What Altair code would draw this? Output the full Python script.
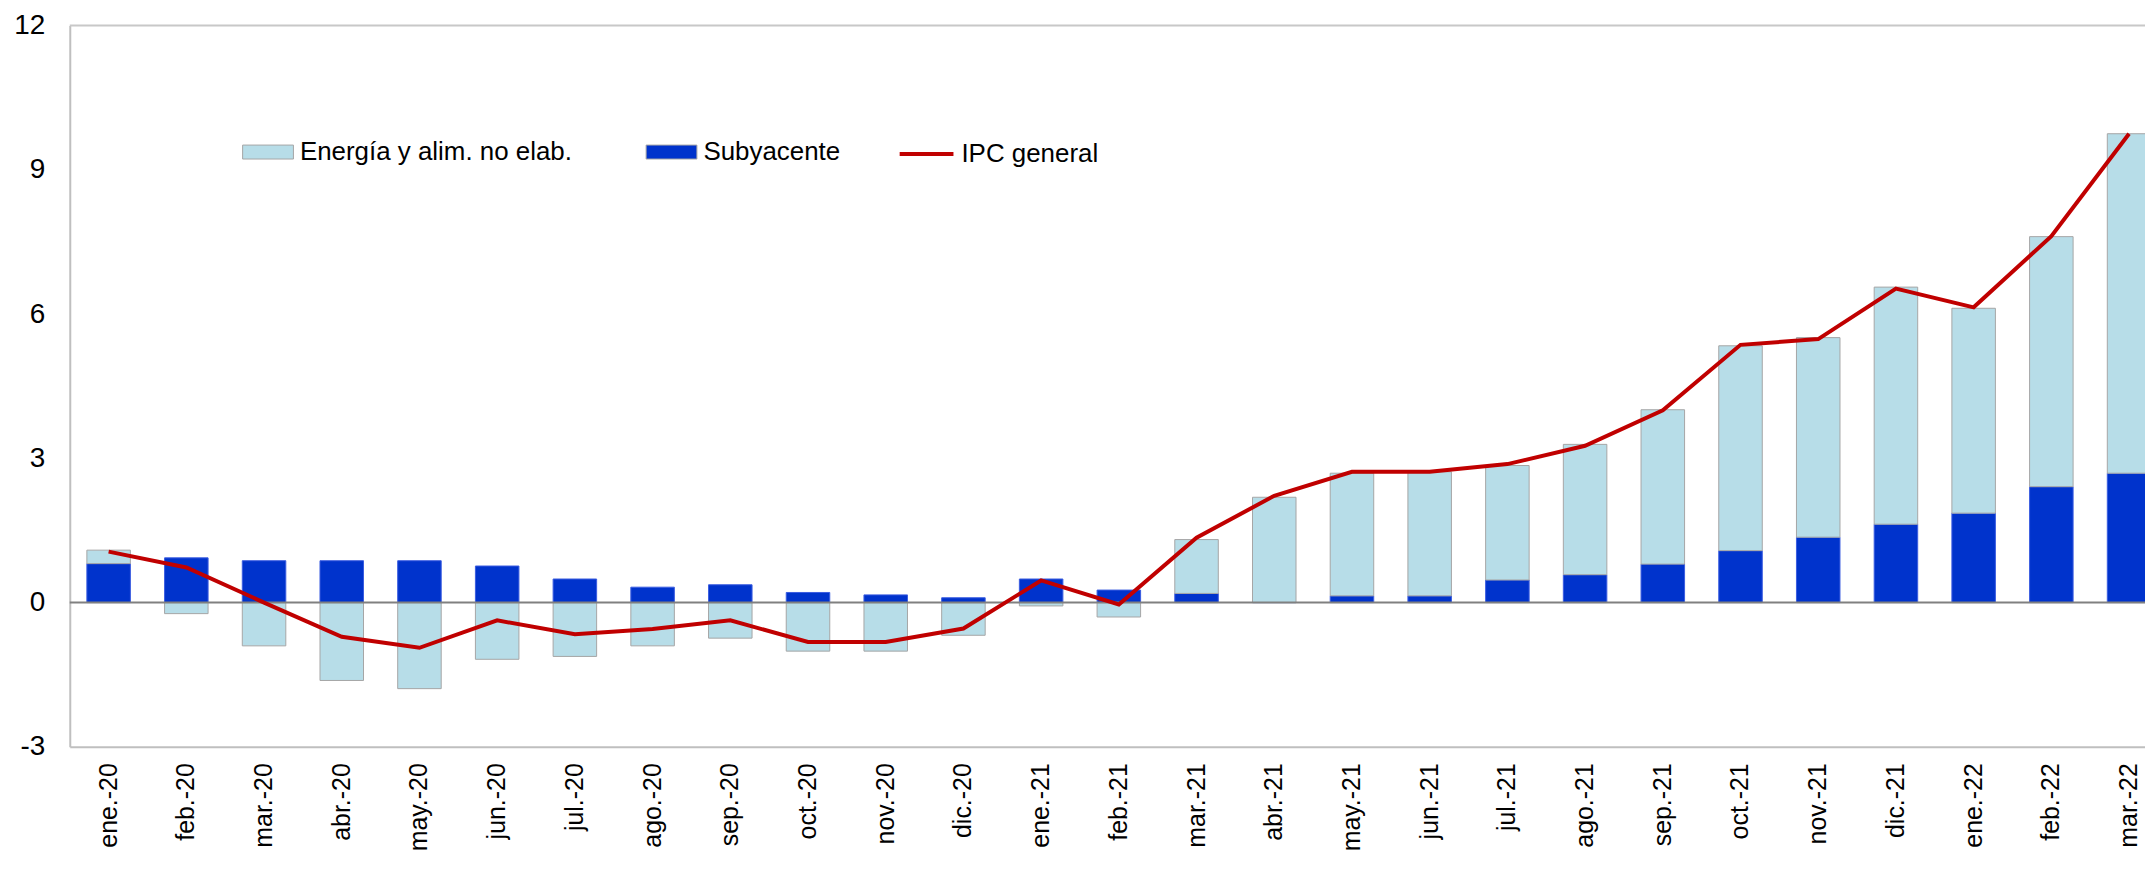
import altair as alt
import pandas as pd

FONT = "Liberation Sans"

meses = ["ene.-20", "feb.-20", "mar.-20", "abr.-20", "may.-20", "jun.-20",
         "jul.-20", "ago.-20", "sep.-20", "oct.-20", "nov.-20", "dic.-20",
         "ene.-21", "feb.-21", "mar.-21", "abr.-21", "may.-21", "jun.-21",
         "jul.-21", "ago.-21", "sep.-21", "oct.-21", "nov.-21", "dic.-21",
         "ene.-22", "feb.-22", "mar.-22"]

subyacente = [0.81, 0.93, 0.87, 0.87, 0.87, 0.76, 0.49, 0.32, 0.37, 0.21, 0.16, 0.10,
              0.49, 0.26, 0.19, 0.00, 0.14, 0.14, 0.47, 0.58, 0.80, 1.08, 1.36, 1.63,
              1.86, 2.41, 2.69]

energia = [0.28, -0.23, -0.90, -1.62, -1.79, -1.18, -1.12, -0.90, -0.74, -1.01, -1.01, -0.68,
           -0.07, -0.30, 1.12, 2.19, 2.55, 2.58, 2.38, 2.71, 3.21, 4.26, 4.15, 4.93,
           4.26, 5.20, 7.06]

ipc = [1.06, 0.73, 0.00, -0.71, -0.94, -0.37, -0.66, -0.55, -0.37, -0.82, -0.82, -0.54,
       0.46, -0.04, 1.35, 2.22, 2.72, 2.72, 2.88, 3.26, 4.00, 5.36, 5.48, 6.53,
       6.14, 7.62, 9.75]

series_barras = ["Energía y alim. no elab.", "Subyacente"]
colores_barras = ["#B7DDE8", "#0033CC"]
y_ticks = [-3, 0, 3, 6, 9, 12]

rows = []
for i, m in enumerate(meses):
    rows.append({"mes": m, "serie": "Subyacente", "valor": subyacente[i], "orden": 0})
    rows.append({"mes": m, "serie": "Energía y alim. no elab.", "valor": energia[i], "orden": 1})
barras_df = pd.DataFrame(rows)
linea_df = pd.DataFrame({"mes": meses, "valor": ipc, "serie": ["IPC general"] * len(meses)})
cero_df = pd.DataFrame({"valor": [0]})
tope_df = pd.DataFrame({"valor": [12]})

x_enc = alt.X(
    "mes:N", sort=meses, title=None,
    scale=alt.Scale(range=[0, 2106], paddingInner=0.44, paddingOuter=0.22),
    axis=alt.Axis(labelAngle=270, labelAlign="right", labelBaseline="middle",
                  labelFont=FONT, labelFontSize=25, labelColor="black",
                  labelPadding=16, ticks=False, domainColor="#bfbfbf",
                  domainWidth=2, grid=False, labelOverlap=False),
)
y_scale = alt.Scale(domain=[-3, 12], nice=False, zero=False)
y_axis = alt.Axis(values=y_ticks, labelFont=FONT, labelFontSize=28, labelColor="black",
                  labelPadding=25, ticks=False, domainColor="#bfbfbf", domainWidth=2,
                  grid=False, labelExpr="toString(datum.value)")

barras = alt.Chart(barras_df).mark_bar(strokeWidth=1).encode(
    x=x_enc,
    y=alt.Y("valor:Q", stack="zero", scale=y_scale, axis=y_axis, title=None),
    color=alt.Color(
        "serie:N",
        scale=alt.Scale(domain=series_barras, range=colores_barras),
        legend=alt.Legend(
            title=None, orient="none", legendX=173, legendY=101,
            direction="horizontal",
            symbolType="M-1,-0.275L1,-0.275L1,0.275L-1,0.275Z",
            symbolSize=2601, symbolStrokeColor="#a6a6a6", symbolStrokeWidth=1,
            symbolOpacity=1,
            labelFont=FONT, labelFontSize=26, labelColor="black",
            labelOffset=6, columnPadding=71, padding=0, labelLimit=500,
        ),
    ),
    order=alt.Order("orden:Q", sort="ascending"),
    stroke=alt.condition(alt.datum.serie == "Subyacente",
                         alt.value("#3a5ce0"), alt.value("#a6a6a6")),
)

cero = alt.Chart(cero_df).mark_rule(color="#808080", strokeWidth=2).encode(
    y=alt.Y("valor:Q", scale=y_scale)
)
tope = alt.Chart(tope_df).mark_rule(color="#c8c8c8", strokeWidth=2).encode(
    y=alt.Y("valor:Q", scale=y_scale)
)

linea = alt.Chart(linea_df).mark_line(strokeWidth=4).encode(
    x=x_enc,
    y=alt.Y("valor:Q", scale=y_scale),
    stroke=alt.Stroke(
        "serie:N",
        scale=alt.Scale(domain=["IPC general"], range=["#C00000"]),
        legend=alt.Legend(
            title=None, orient="none", legendX=831, legendY=100,
            symbolType="M-1,0L1,0", symbolSize=2916, symbolStrokeWidth=4,
            labelFont=FONT, labelFontSize=26, labelColor="black",
            labelOffset=6, padding=0, labelLimit=500,
        ),
    ),
)

chart = alt.layer(barras, cero, tope, linea).properties(
    width=2083, height=724,
    autosize=alt.AutoSizeParams(type="none"),
    padding={"left": 62, "top": 16, "right": 0, "bottom": 112},
    background="white",
).configure_view(stroke="transparent")

chart.save("out.html", embed_options={"renderer": "svg", "actions": False})
